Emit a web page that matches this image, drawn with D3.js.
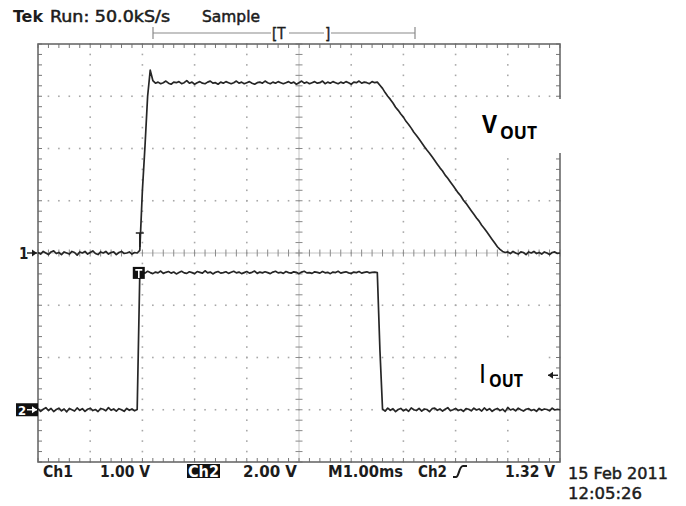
<!DOCTYPE html>
<html>
<head>
<meta charset="utf-8">
<script src="https://cdn.jsdelivr.net/npm/d3@7"></script>
<style>
  body { margin: 0; background: #fff; }
  svg text { font-family: "DejaVu Sans Condensed", "DejaVu Sans", sans-serif; fill: #1c1c1c; }
</style>
</head>
<body>
<svg id="scope" width="686" height="506"></svg>
<script>
// ### scope settings
const sampleIntervalMs = 0.05;
const triggerMs = 1.95;
const ch1VoltsPerDiv = 1.00, ch1OffsetDiv = 0;
const ch2VoltsPerDiv = 2.00, ch2OffsetDiv = -3;
const triggerLevelVolts = 1.32;

// ### Ch1 (V_OUT) samples, volts, one every 0.05 ms
const ch1Pre = [
  0.01, -0.02, 0.03, 0.00, -0.03, 0.02, 0.04, -0.01, 0.01, -0.03,
  0.02, 0.00, -0.02, 0.03, 0.01, -0.04, 0.02, 0.00, 0.03, -0.02,
  0.01, 0.04, -0.01, -0.03, 0.02, 0.00, 0.03, -0.02, 0.01, 0.02,
  -0.03, 0.01, 0.03, -0.01, 0.00, 0.02, -0.02, 0.01, 0.00];
const ch1Edge = [0.05, 1.20, 2.05, 3.00, 3.50, 3.30];
const ch1Top = [
  3.25, 3.27, 3.24, 3.26, 3.29, 3.25, 3.23, 3.27, 3.26, 3.28,
  3.24, 3.26, 3.30, 3.25, 3.27, 3.23, 3.26, 3.28, 3.25, 3.24,
  3.27, 3.29, 3.25, 3.26, 3.23, 3.27, 3.25, 3.28, 3.26, 3.24,
  3.26, 3.29, 3.25, 3.27, 3.24, 3.26, 3.28, 3.25, 3.23, 3.26,
  3.27, 3.25, 3.29, 3.26, 3.24, 3.27, 3.25, 3.28, 3.26, 3.24,
  3.26, 3.28, 3.25, 3.27, 3.23, 3.26, 3.29, 3.25, 3.27, 3.24,
  3.26, 3.28, 3.25, 3.26, 3.29, 3.24, 3.27, 3.25, 3.28, 3.26,
  3.24, 3.27, 3.25, 3.28, 3.26, 3.23, 3.27, 3.26, 3.29, 3.25,
  3.27, 3.26, 3.24, 3.28, 3.26, 3.27];
const ch1Ramp = [
  3.21, 3.15, 3.07, 3.00, 2.94, 2.87, 2.79, 2.73, 2.66, 2.60,
  2.52, 2.46, 2.39, 2.31, 2.25, 2.18, 2.11, 2.04, 1.97, 1.91,
  1.84, 1.77, 1.70, 1.63, 1.57, 1.49, 1.43, 1.36, 1.29, 1.22,
  1.15, 1.09, 1.01, 0.95, 0.88, 0.81, 0.74, 0.67, 0.61, 0.53,
  0.47, 0.40, 0.33, 0.26, 0.19, 0.12, 0.07, 0.03, 0.01];
const ch1Post = [
  0.02, -0.01, 0.03, 0.00, -0.02, 0.02, 0.01, -0.03, 0.02, 0.00,
  0.03, -0.01, 0.01, -0.02, 0.02, 0.00, -0.03, 0.01, 0.02, -0.01, 0.00];

// ### Ch2 (I_OUT) samples, volts, one every 0.05 ms
const ch2Pre = [
  0.04, -0.06, 0.02, 0.08, -0.03, 0.05, -0.07, 0.01, 0.06, -0.04,
  0.03, -0.08, 0.05, 0.00, -0.05, 0.07, -0.02, 0.04, -0.06, 0.02,
  0.06, -0.03, 0.01, -0.07, 0.05, 0.02, -0.04, 0.08, -0.02, 0.03,
  -0.05, 0.04, 0.00, -0.06, 0.05, -0.02, 0.03, -0.04, 0.01];
const ch2Top = [
  5.20, 5.28, 5.23, 5.30, 5.25, 5.21, 5.27, 5.24, 5.31, 5.22,
  5.26, 5.29, 5.23, 5.27, 5.20, 5.25, 5.30, 5.24, 5.22, 5.28,
  5.25, 5.21, 5.29, 5.26, 5.23, 5.32, 5.24, 5.27, 5.20, 5.26,
  5.29, 5.23, 5.25, 5.28, 5.22, 5.26, 5.30, 5.24, 5.27, 5.21,
  5.25, 5.29, 5.23, 5.26, 5.31, 5.22, 5.27, 5.24, 5.28, 5.25,
  5.21, 5.27, 5.30, 5.24, 5.26, 5.22, 5.29, 5.25, 5.23, 5.28,
  5.26, 5.21, 5.27, 5.30, 5.24, 5.25, 5.22, 5.28, 5.26, 5.23,
  5.29, 5.24, 5.26, 5.21, 5.27, 5.25, 5.30, 5.23, 5.26, 5.28,
  5.24, 5.22, 5.27, 5.25, 5.29, 5.23, 5.26, 5.28, 5.24, 5.26,
  5.27, 5.25];
const ch2Fall = [2.30];
const ch2Post = [
  0.03, -0.05, 0.06, -0.02, 0.04, -0.07, 0.01, 0.05, -0.04, 0.02,
  -0.06, 0.07, 0.00, -0.03, 0.05, -0.05, 0.03, 0.01, -0.07, 0.04,
  0.06, -0.02, 0.03, -0.05, 0.02, 0.08, -0.04, 0.00, 0.05, -0.03,
  0.01, -0.06, 0.04, 0.02, -0.04, 0.06, -0.01, 0.03, -0.05, 0.07,
  -0.02, 0.04, -0.06, 0.01, 0.05, -0.03, 0.02, -0.07, 0.09, -0.01,
  0.03, -0.04, 0.06, 0.00, -0.05, 0.02, 0.04, -0.03, 0.01, -0.06,
  0.05, -0.02, 0.03, 0.01, -0.04, 0.06, -0.01, 0.02, 0.00];

// ### screen texts
const headerLabels = ["Tek", "Run: 50.0kS/s", "Sample"];
const statusLabels = ["Ch1", "1.00 V", "Ch2", "2.00 V", "M1.00ms", "Ch2", "1.32 V"];
const dateLabels = ["15 Feb 2011", "12:05:26"];

const ch1Volts = [].concat(ch1Pre, ch1Edge, ch1Top, ch1Ramp, ch1Post);
const ch2Volts = [].concat(ch2Pre, ch2Top, ch2Fall, ch2Post);

const svg = d3.select("#scope");
const x = d3.scaleLinear().domain([0, 10]).range([38, 560]);
const y = d3.scaleLinear().domain([-4, 4]).range([462, 44]);

// ### graticule
const grid = svg.append("g");
const minorX = d3.range(0, 10.001, 0.2);
const minorY = d3.range(-4, 4.001, 0.2);

// dotted division lines
[1, 2, 3, 4, 6, 7, 8, 9].forEach(gx => {
  grid.append("g").selectAll("rect").data(minorY).join("rect")
    .attr("x", x(gx) - 0.8).attr("y", d => y(d) - 0.8)
    .attr("width", 1.6).attr("height", 1.6).attr("fill", "#a8a8a8");
});
[-3, -2, -1, 1, 2, 3].forEach(gy => {
  grid.append("g").selectAll("rect").data(minorX).join("rect")
    .attr("x", d => x(d) - 0.8).attr("y", y(gy) - 0.8)
    .attr("width", 1.6).attr("height", 1.6).attr("fill", "#a8a8a8");
});

// center cross with ticks
grid.append("line").attr("x1", x(0)).attr("x2", x(10)).attr("y1", y(0)).attr("y2", y(0))
  .attr("stroke", "#c4c4c4").attr("stroke-width", 1);
grid.append("line").attr("x1", x(5)).attr("x2", x(5)).attr("y1", y(-4)).attr("y2", y(4))
  .attr("stroke", "#c4c4c4").attr("stroke-width", 1);
grid.append("g").selectAll("line").data(minorX).join("line")
  .attr("x1", d => x(d)).attr("x2", d => x(d))
  .attr("y1", y(0) - 3.5).attr("y2", y(0) + 3.5)
  .attr("stroke", "#8a8a8a");
grid.append("g").selectAll("line").data(minorY).join("line")
  .attr("x1", x(5) - 3.5).attr("x2", x(5) + 3.5)
  .attr("y1", d => y(d)).attr("y2", d => y(d))
  .attr("stroke", "#8a8a8a");

// edge ticks
const tickLen = 4;
grid.append("g").selectAll("line").data(minorX).join("line")
  .attr("x1", d => x(d)).attr("x2", d => x(d))
  .attr("y1", y(4)).attr("y2", y(4) + tickLen).attr("stroke", "#777");
grid.append("g").selectAll("line").data(minorX).join("line")
  .attr("x1", d => x(d)).attr("x2", d => x(d))
  .attr("y1", y(-4)).attr("y2", y(-4) - tickLen).attr("stroke", "#777");
grid.append("g").selectAll("line").data(minorY).join("line")
  .attr("x1", x(0)).attr("x2", x(0) + tickLen)
  .attr("y1", d => y(d)).attr("y2", d => y(d)).attr("stroke", "#777");
grid.append("g").selectAll("line").data(minorY).join("line")
  .attr("x1", x(10)).attr("x2", x(10) - tickLen)
  .attr("y1", d => y(d)).attr("y2", d => y(d)).attr("stroke", "#777");

grid.append("rect")
  .attr("x", x(0)).attr("y", y(4))
  .attr("width", x(10) - x(0)).attr("height", y(-4) - y(4))
  .attr("fill", "none").attr("stroke", "#6a6a6a").attr("stroke-width", 1.6);

// ### traces
const line = d3.line()
  .x((d, i) => x(i * sampleIntervalMs))
  .y(d => y(d));

svg.append("path")
  .attr("d", line(ch1Volts.map(v => v / ch1VoltsPerDiv + ch1OffsetDiv)))
  .attr("fill", "none").attr("stroke", "#262626").attr("stroke-width", 1.7)
  .attr("stroke-linejoin", "round");
svg.append("path")
  .attr("d", line(ch2Volts.map(v => v / ch2VoltsPerDiv + ch2OffsetDiv)))
  .attr("fill", "none").attr("stroke", "#262626").attr("stroke-width", 1.7)
  .attr("stroke-linejoin", "round");

// ### markers
const arrow = (g, x1, x2, yy, color) => {
  const dir = Math.sign(x2 - x1);
  g.append("line").attr("x1", x1).attr("x2", x2).attr("y1", yy).attr("y2", yy)
    .attr("stroke", color).attr("stroke-width", 1.4);
  g.append("path")
    .attr("d", `M${x2},${yy} L${x2 - dir * 5},${yy - 3.5} L${x2 - dir * 5},${yy + 3.5} Z`)
    .attr("fill", color);
};

// channel 1 ground marker
const y1g = y(ch1OffsetDiv);
svg.append("text").attr("x", 19).attr("y", y1g + 5.5)
  .attr("font-size", 15).attr("font-weight", "bold").text("1");
arrow(svg, 27, 37, y1g, "#1c1c1c");

// channel 2 ground marker
const y2g = y(ch2OffsetDiv);
svg.append("rect").attr("x", 16).attr("y", y2g - 6.5).attr("width", 22).attr("height", 13).attr("fill", "#111");
svg.append("text").attr("x", 18).attr("y", y2g + 5).attr("font-size", 13)
  .attr("font-weight", "bold").style("fill", "#fff").text("2");
arrow(svg, 27, 37, y2g, "#fff");

// trigger point markers
const xt = x(triggerMs);
svg.append("path")
  .attr("d", `M${xt - 4},${y1g - 20} H${xt + 4} M${xt},${y1g - 20} V${y1g - 6}`)
  .attr("stroke", "#222").attr("stroke-width", 1.6).attr("fill", "none");
const yt2 = y(ch2Top[0] / ch2VoltsPerDiv + ch2OffsetDiv);
svg.append("rect").attr("x", xt - 7).attr("y", yt2 - 7).attr("width", 12).attr("height", 12).attr("fill", "#111");
svg.append("path")
  .attr("d", `M${xt - 4.5},${yt2 - 4} H${xt + 2.5} M${xt - 1},${yt2 - 4} V${yt2 + 4}`)
  .attr("stroke", "#fff").attr("stroke-width", 1.6);

// ### record view bar
svg.append("path")
  .attr("d", "M153,33 H415 M153,27 V39 M415,27 V39")
  .attr("stroke", "#8a8a8a").attr("stroke-width", 1.2).attr("fill", "none");
svg.append("rect").attr("x", 271).attr("y", 26).attr("width", 18).attr("height", 14).attr("fill", "#fff");
svg.append("text").attr("x", 272).attr("y", 39).attr("font-size", 15)
  .style("stroke", "#1c1c1c").style("stroke-width", 0.4).text("[T");
svg.append("rect").attr("x", 324).attr("y", 26).attr("width", 7).attr("height", 14).attr("fill", "#fff");
svg.append("text").attr("x", 325).attr("y", 39).attr("font-size", 15)
  .style("stroke", "#1c1c1c").style("stroke-width", 0.4).text("]");

// ### header
const header = svg.append("g").style("font-family", "'DejaVu Sans', sans-serif");
header.append("text").attr("x", 13).attr("y", 22).attr("font-size", 15).attr("font-weight", "bold")
  .attr("textLength", 30).attr("lengthAdjust", "spacingAndGlyphs").text(headerLabels[0]);
header.append("text").attr("x", 50).attr("y", 22).attr("font-size", 15)
  .style("stroke", "#1c1c1c").style("stroke-width", 0.45)
  .attr("textLength", 120).attr("lengthAdjust", "spacingAndGlyphs").text(headerLabels[1]);
header.append("text").attr("x", 202).attr("y", 22).attr("font-size", 15)
  .style("stroke", "#1c1c1c").style("stroke-width", 0.45)
  .attr("textLength", 58).attr("lengthAdjust", "spacingAndGlyphs").text(headerLabels[2]);

// ### status line
const statusX = [43, 100, 188, 243, 328, 418, 505];
const statusW = [30, 50, 31, 54, 75, 29, 50];
svg.append("rect").attr("x", 187).attr("y", 464).attr("width", 33).attr("height", 14).attr("fill", "#111");
svg.append("g").selectAll("text").data(statusLabels).join("text")
  .attr("x", (d, i) => statusX[i]).attr("y", 476.5)
  .attr("font-size", 15).attr("font-weight", "bold")
  .attr("textLength", (d, i) => statusW[i]).attr("lengthAdjust", "spacingAndGlyphs")
  .style("fill", (d, i) => i === 2 ? "#fff" : "#1c1c1c")
  .text(d => d);
// rising slope symbol
svg.append("path")
  .attr("d", "M453,477 H456 C459,477 459,466 463,466 H467")
  .attr("stroke", "#1c1c1c").attr("stroke-width", 2).attr("fill", "none");

svg.append("g").selectAll("text").data(dateLabels).join("text")
  .attr("x", 568).attr("y", (d, i) => 479 + i * 20)
  .attr("font-size", 15).style("font-family", "'DejaVu Sans', sans-serif")
  .style("stroke", "#1c1c1c").style("stroke-width", 0.45)
  .attr("textLength", (d, i) => i === 0 ? 100 : 74).attr("lengthAdjust", "spacingAndGlyphs")
  .text(d => d);

// ### annotation boxes
const notes = [
  {box: [457, 99, 108, 54], main: "V", sub: "OUT", mx: 482, my: 133, ms: 25, mw: 15, sx: 500, sy: 139, ss: 18, sw: 37},
  {box: [460, 345, 85, 55], main: "I", sub: "OUT", mx: 480, my: 383, ms: 27, mw: 5, sx: 489, sy: 387, ss: 17, sw: 34}
];
notes.forEach(n => {
  svg.append("rect").attr("x", n.box[0]).attr("y", n.box[1])
    .attr("width", n.box[2]).attr("height", n.box[3]).attr("fill", "#fff");
  svg.append("text").attr("x", n.mx).attr("y", n.my)
    .attr("font-size", n.ms).attr("font-weight", 700)
    .style("font-family", "'Open Sans', 'Liberation Sans', sans-serif").style("fill", "#000")
    .attr("textLength", n.mw).attr("lengthAdjust", "spacingAndGlyphs").text(n.main);
  svg.append("text").attr("x", n.sx).attr("y", n.sy)
    .attr("font-size", n.ss).attr("font-weight", 700)
    .style("font-family", "'Open Sans', 'Liberation Sans', sans-serif").style("fill", "#000")
    .attr("textLength", n.sw).attr("lengthAdjust", "spacingAndGlyphs").text(n.sub);
});
// trigger level marker at the right edge, above the I_OUT box
arrow(svg, 558, 548, y(triggerLevelVolts / ch2VoltsPerDiv + ch2OffsetDiv), "#1c1c1c");
</script>
</body>
</html>
